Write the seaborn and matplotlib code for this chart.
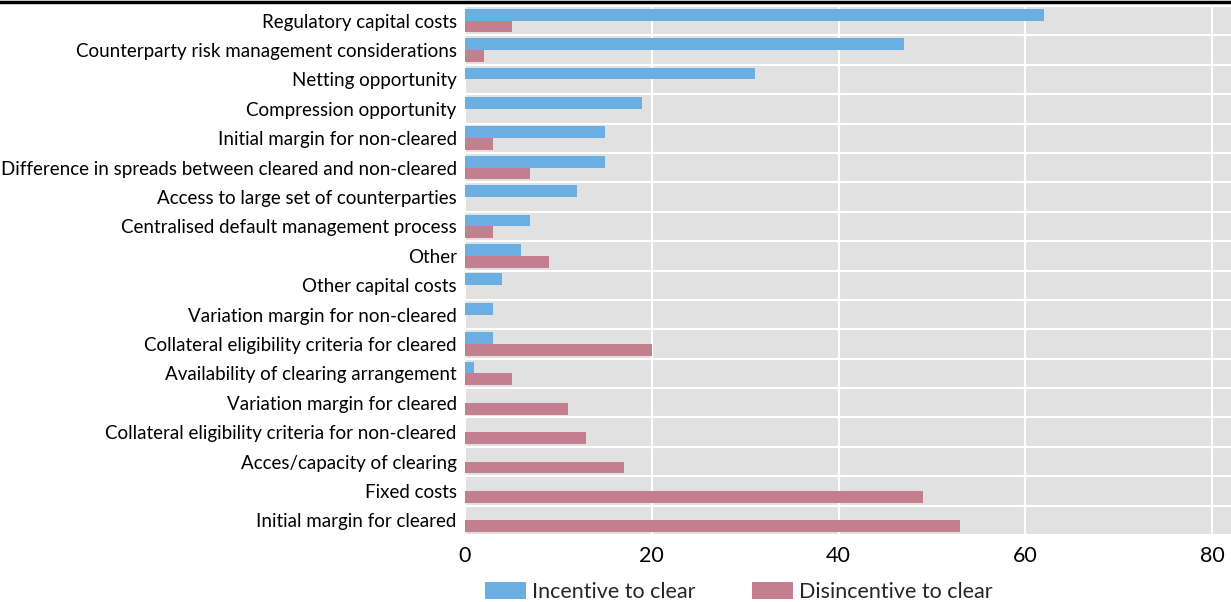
import numpy as np
import pandas as pd
import matplotlib
matplotlib.use("Agg")
import matplotlib.pyplot as plt
import seaborn as sns
from matplotlib.lines import Line2D

categories = [
    "Regulatory capital costs",
    "Counterparty risk management considerations",
    "Netting opportunity",
    "Compression opportunity",
    "Initial margin for non-cleared",
    "Difference in spreads between cleared and non-cleared",
    "Access to large set of counterparties",
    "Centralised default management process",
    "Other",
    "Other capital costs",
    "Variation margin for non-cleared",
    "Collateral eligibility criteria for cleared",
    "Availability of clearing arrangement",
    "Variation margin for cleared",
    "Collateral eligibility criteria for non-cleared",
    "Acces/capacity of clearing",
    "Fixed costs",
    "Initial margin for cleared",
]
incentive = [62, 47, 31, 19, 15, 15, 12, 7, 6, 4, 3, 3, 1, 0, 0, 0, 0, 0]
disincentive = [5, 2, 0, 0, 3, 7, 0, 3, 9, 0, 0, 20, 5, 11, 13, 17, 49, 53]
series = ["Incentive to clear", "Disincentive to clear"]
xticks = [0, 20, 40, 60, 80]

df = pd.DataFrame({"category": categories, series[0]: incentive, series[1]: disincentive})
long = df.melt(id_vars="category", var_name="series", value_name="value")

sns.set_theme(style="darkgrid")
plt.rcParams["font.family"] = ["Lato", "DejaVu Sans"]

fig = plt.figure(figsize=(12.31, 6.02), dpi=100)
ax = fig.add_axes([465 / 1231, 1 - 535 / 602, 1 - 465 / 1231, (535 - 6) / 602])
ax.set_facecolor("#E1E1E1")

sns.barplot(data=long, y="category", x="value", hue="series", orient="h",
            palette=["#6AAEE2", "#C47F8E"], width=0.8, ax=ax, legend=True,
            saturation=1, linewidth=0)

n = len(categories)
ax.set_xlim(0, 82)
ax.set_ylim(n - 0.5, -0.5)
ax.set_xticks(xticks)
ax.set_yticks(np.arange(-0.5, n, 1.0), minor=True)
ax.grid(False)
ax.grid(True, axis="x", which="major", color="white", linewidth=1.5)
ax.grid(True, axis="y", which="minor", color="white", linewidth=1.5)
ax.set_axisbelow(True)
ax.tick_params(axis="y", which="both", length=0, labelsize=13.5, pad=6, colors="black")
ax.tick_params(axis="x", length=0, labelsize=15.5, pad=8, colors="black")
ax.set_xlabel("")
ax.set_ylabel("")
for s in ax.spines.values():
    s.set_visible(False)

ax.legend(loc="center", bbox_to_anchor=(739 / 1231, 1 - 592 / 602),
          bbox_transform=fig.transFigure,
          ncol=2, frameon=False, fontsize=15.5, handlelength=1.9, handleheight=0.85,
          handletextpad=0.3, columnspacing=2.6, borderpad=0)

fig.add_artist(Line2D([0, 1], [1 - 1.5 / 602, 1 - 1.5 / 602], color="black", linewidth=2.5,
                      transform=fig.transFigure))

fig.savefig("out.png", dpi=100)
